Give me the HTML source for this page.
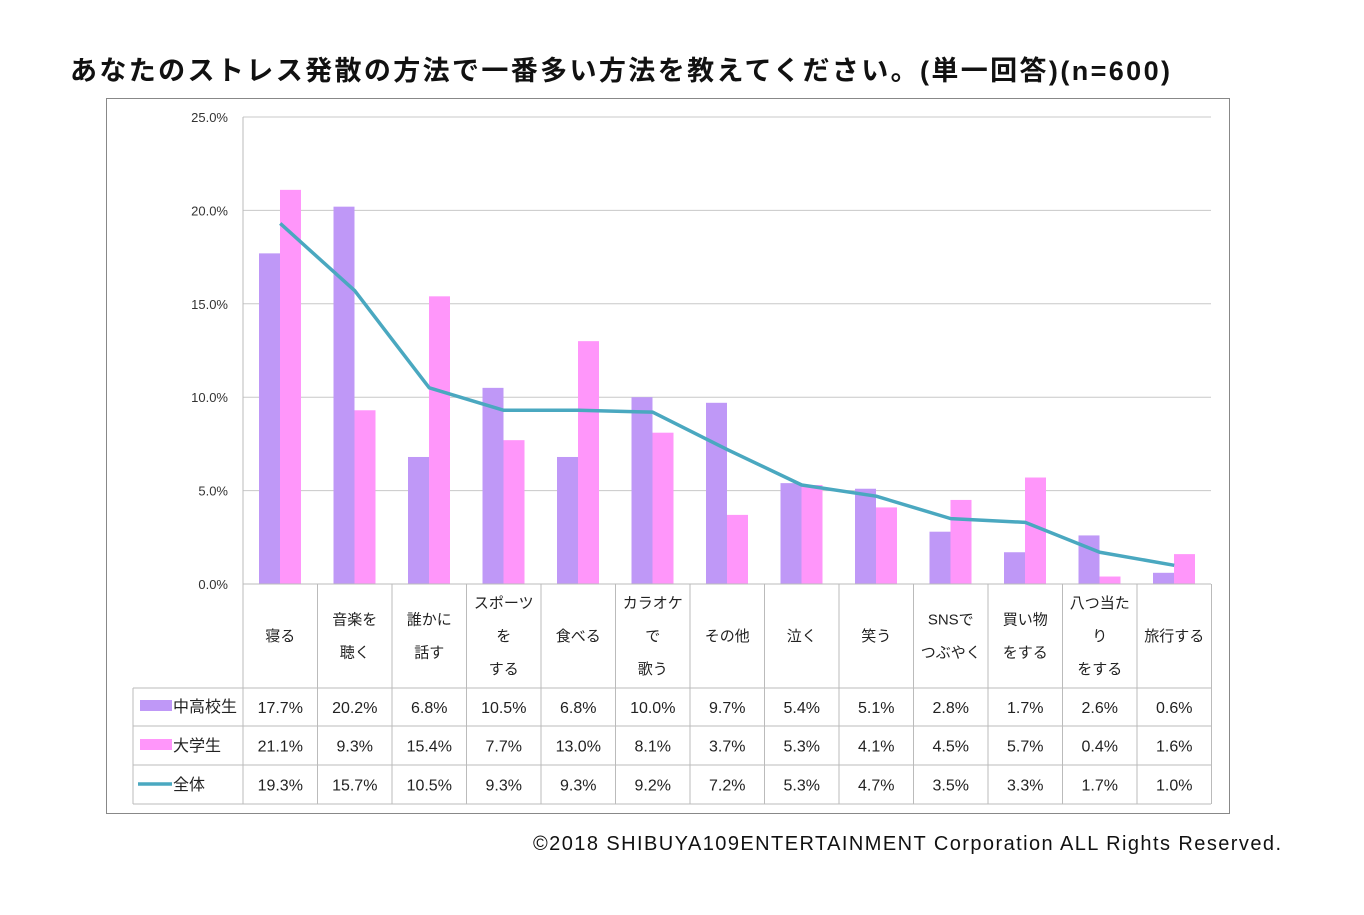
<!DOCTYPE html><html><head><meta charset="utf-8"><style>
body{margin:0;background:#fff;width:1364px;height:910px;overflow:hidden;font-family:"Liberation Sans","Noto Sans CJK JP",sans-serif}
</style></head><body>
<svg id="s" width="1364" height="910" xmlns="http://www.w3.org/2000/svg" font-family="'Liberation Sans','Noto Sans CJK JP',sans-serif"></svg>
<script>
const s=document.getElementById('s');let h='';
h+='<text x="70" y="80" font-size="27" font-weight="bold" fill="#111" textLength="1100" lengthAdjust="spacing">あなたのストレス発散の方法で一番多い方法を教えてください。(単一回答)(n=600)</text>';
h+='<rect x="106.5" y="98.5" width="1123" height="715" fill="none" stroke="#888" stroke-width="1"/>';
const X0=243,W=74.5,Y0=584,K=18.68;
for(let i=0;i<=5;i++){const y=Y0-i*5*K;h+=`<line x1="${X0}" x2="1211" y1="${y}" y2="${y}" stroke="#c8c8c8"/>`;h+=`<text x="228" y="${y+5}" font-size="13" text-anchor="end" fill="#333">${(i*5).toFixed(1)}%</text>`;}
const cats=[["寝る"],["音楽を","聴く"],["誰かに","話す"],["スポーツ","を","する"],["食べる"],["カラオケ","で","歌う"],["その他"],["泣く"],["笑う"],["SNSで","つぶやく"],["買い物","をする"],["八つ当た","り","をする"],["旅行する"]];
const a=[17.7,20.2,6.8,10.5,6.8,10.0,9.7,5.4,5.1,2.8,1.7,2.6,0.6],b=[21.1,9.3,15.4,7.7,13.0,8.1,3.7,5.3,4.1,4.5,5.7,0.4,1.6],c=[19.3,15.7,10.5,9.3,9.3,9.2,7.2,5.3,4.7,3.5,3.3,1.7,1.0];
let pts=[];
for(let i=0;i<13;i++){const x=X0+i*W;h+=`<rect x="${x+16}" y="${Y0-a[i]*K}" width="21" height="${a[i]*K}" fill="#bf98f7"/>`;h+=`<rect x="${x+37}" y="${Y0-b[i]*K}" width="21" height="${b[i]*K}" fill="#ff96fa"/>`;pts.push(`${x+W/2},${Y0-c[i]*K}`);}
h+=`<polyline points="${pts.join(' ')}" fill="none" stroke="#4aa8c0" stroke-width="3.5" stroke-linejoin="round"/>`;
const rows=[584,688,726,765,804];
h+=`<line x1="${X0}" x2="1211" y1="584" y2="584" stroke="#bbb"/>`;
for(let r=1;r<5;r++)h+=`<line x1="133" x2="1211" y1="${rows[r]}" y2="${rows[r]}" stroke="#bbb"/>`;
h+=`<line x1="133" x2="133" y1="688" y2="804" stroke="#bbb"/>`;
for(let i=0;i<=13;i++){const x=X0+i*W;h+=`<line x1="${x}" x2="${x}" y1="${i==0?117:584}" y2="804" stroke="#bbb"/>`;}
for(let i=0;i<13;i++){const cx=X0+i*W+W/2,L=cats[i],n=L.length;L.forEach((t,j)=>{const y=636+(j-(n-1)/2)*33+5;h+=`<text x="${cx}" y="${y}" font-size="15" text-anchor="middle" fill="#222">${t}</text>`;});
[a,b,c].forEach((d,r)=>{h+=`<text x="${cx}" y="${(rows[r+1]+rows[r+2])/2+6}" font-size="16" text-anchor="middle" fill="#222">${d[i].toFixed(1)}%</text>`;});}
h+=`<rect x="140" y="700" width="32" height="11" fill="#bf98f7"/><text x="173" y="712" font-size="16" fill="#222">中高校生</text>`;
h+=`<rect x="140" y="739" width="32" height="11" fill="#ff96fa"/><text x="173" y="751" font-size="16" fill="#222">大学生</text>`;
h+=`<line x1="138" x2="172" y1="784" y2="784" stroke="#4aa8c0" stroke-width="3.5"/><text x="173" y="790" font-size="16" fill="#222">全体</text>`;
h+='<text x="533" y="850" font-size="20" fill="#111" textLength="748" lengthAdjust="spacing">©2018  SHIBUYA109ENTERTAINMENT Corporation   ALL Rights Reserved.</text>';
s.innerHTML=h;
</script></body></html>
